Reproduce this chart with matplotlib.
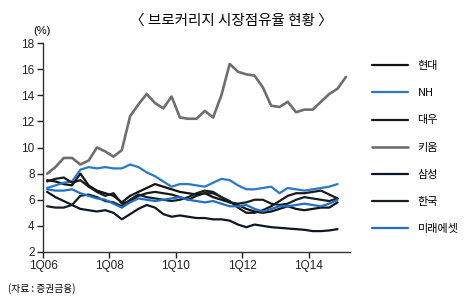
import matplotlib
matplotlib.use("Agg")
import matplotlib.pyplot as plt
import numpy as np

plt.rcParams["font.family"] = ["Noto Sans CJK KR", "DejaVu Sans"]

# quarterly readings, index 0 = 1Q06
hyundai = [7.5, 7.4, 7.2, 7.1, 8.0, 7.1, 6.7, 6.5, 6.3, 5.8, 6.3, 6.6, 6.9, 7.2, 7.0, 6.8,
           6.6, 6.5, 6.4, 6.5, 6.2, 6.0, 5.8, 5.6, 5.3, 5.1, 5.0, 5.1, 5.3, 5.5, 5.3, 5.2,
           5.3, 5.4, 5.4, 5.8]
nh = [6.9, 7.1, 7.3, 7.4, 8.3, 8.5, 8.4, 8.5, 8.4, 8.4, 8.7, 8.5, 8.1, 7.8, 7.4, 7.0,
      7.2, 7.2, 7.1, 7.0, 7.3, 7.6, 7.5, 7.1, 6.8, 6.8, 6.9, 7.0, 6.5, 6.9, 6.8, 6.7,
      6.8, 6.9, 7.0, 7.2]
daewoo = [7.4, 7.6, 7.7, 7.3, 7.5, 7.0, 6.6, 6.3, 6.5, 5.7, 5.9, 6.3, 6.5, 6.6, 6.5, 6.4,
          6.2, 6.0, 6.3, 6.5, 6.5, 6.2, 5.9, 5.4, 5.0, 5.0, 5.2, 5.5, 5.9, 6.3, 6.5, 6.5,
          6.6, 6.7, 6.4, 6.1]
kiwoom = [8.0, 8.5, 9.2, 9.2, 8.7, 9.0, 10.0, 9.7, 9.3, 9.8, 12.4, 13.3, 14.1, 13.4, 13.0, 13.9,
          12.3, 12.2, 12.2, 12.8, 12.3, 14.0, 16.4, 15.8, 15.6, 15.5, 14.6, 13.2, 13.1, 13.5, 12.7, 12.9,
          12.9, 13.5, 14.1, 14.5, 15.4]
samsung = [6.6, 6.2, 5.9, 5.6, 5.3, 5.2, 5.1, 5.2, 5.0, 4.5, 4.9, 5.3, 5.6, 5.4, 4.9, 4.7,
           4.8, 4.7, 4.6, 4.6, 4.5, 4.5, 4.4, 4.1, 3.9, 4.1, 4.0, 3.9, 3.85, 3.8, 3.75, 3.7,
           3.6, 3.6, 3.65, 3.75]
korea = [5.5, 5.4, 5.4, 5.6, 6.3, 6.4, 6.2, 5.9, 5.8, 5.5, 6.0, 6.4, 6.2, 6.1, 6.0, 5.9,
         6.0, 6.2, 6.5, 6.7, 6.6, 6.2, 5.8, 5.7, 5.8, 6.0, 6.0, 5.7, 5.6, 5.7, 6.0, 6.2,
         6.1, 6.0, 5.9, 6.1]
mirae = [6.8, 6.7, 6.7, 6.8, 6.5, 6.3, 6.1, 6.0, 5.7, 5.4, 5.8, 6.1, 6.0, 5.9, 6.0, 6.1,
         6.2, 6.0, 5.9, 5.8, 5.9, 5.7, 5.5, 5.5, 5.6, 5.3, 5.1, 5.3, 5.5, 5.5, 5.6, 5.7,
         5.6, 5.5, 5.7, 6.0]

series = [
    ("현대", hyundai, "#111111", 1.6),
    ("NH", nh, "#2a78c8", 1.6),
    ("대우", daewoo, "#1a1a1a", 1.6),
    ("키움", kiwoom, "#6e6e6e", 1.9),
    ("삼성", samsung, "#0c1626", 1.6),
    ("한국", korea, "#132020", 1.6),
    ("미래에셋", mirae, "#1f6fc8", 1.6),
]
tick_labels = ["1Q06", "1Q08", "1Q10", "1Q12", "1Q14"]

fig = plt.figure(figsize=(4.7, 3.04), dpi=100)
ax = fig.add_axes([43 / 470, 52 / 304, 307 / 470, 209 / 304])

for name, values, color, lw in series:
    x = np.arange(len(values))
    ax.plot(x, values, color=color, linewidth=lw, label=name, solid_capstyle="round")

ax.set_xlim(-0.5, 36.5)
ax.set_ylim(2, 18)
ax.set_yticks(range(2, 19, 2))
ax.set_xticks(np.arange(len(tick_labels)) * 8 - 0.5)
ax.set_xticklabels(tick_labels)
ax.tick_params(labelsize=8.5, length=4, width=1, colors="#222222", pad=2)
for lbl in ax.get_xticklabels() + ax.get_yticklabels():
    lbl.set_fontfamily(["Liberation Sans", "DejaVu Sans"])
for side in ["top", "right"]:
    ax.spines[side].set_visible(False)
for side in ["left", "bottom"]:
    ax.spines[side].set_color("#333333")
    ax.spines[side].set_linewidth(1)

fig.text(231 / 470, 1 - 21 / 304, "〈 브로커리지 시장점유율 현황 〉", ha="center", va="center", fontsize=10.5)
fig.text(42 / 470, 1 - 31 / 304, "(%)", ha="center", va="center", fontsize=8,
         family=["Liberation Sans", "DejaVu Sans"])
fig.text(8 / 470, 1 - 289 / 304, "(자료 : 증권금융)", ha="left", va="center", fontsize=7)

fig.legend(loc="upper left", bbox_to_anchor=(362 / 470, 1 - 51 / 304), frameon=False,
           fontsize=8, labelspacing=1.55, handlelength=3.2, handletextpad=0.9)

fig.savefig("out.png", dpi=100)
